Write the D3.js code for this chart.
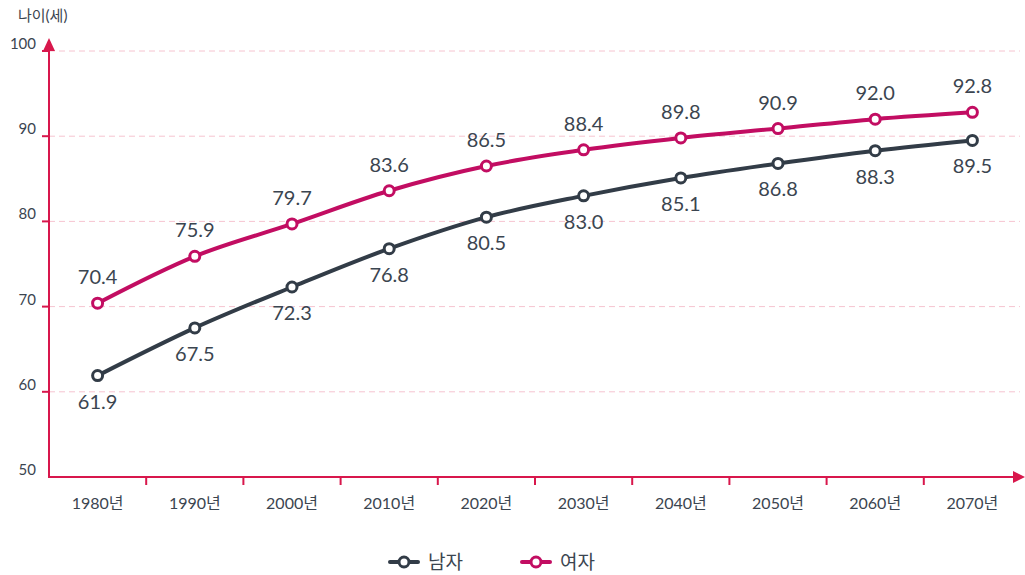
<!DOCTYPE html>
<html>
<head>
<meta charset="utf-8">
<script src="https://d3js.org/d3.v7.min.js"></script>
<style>
  body { margin: 0; background: #fff; }
  text { font-family: Lato, "Noto Sans CJK KR", sans-serif; }
</style>
</head>
<body>
<svg id="chart" width="1025" height="575"></svg>
<script>
const years = ["1980년","1990년","2000년","2010년","2020년","2030년","2040년","2050년","2060년","2070년"];
const male = [61.9, 67.5, 72.3, 76.8, 80.5, 83.0, 85.1, 86.8, 88.3, 89.5];
const female = [70.4, 75.9, 79.7, 83.6, 86.5, 88.4, 89.8, 90.9, 92.0, 92.8];
const yTicks = [50, 60, 70, 80, 90, 100];

const svg = d3.select("svg#chart");
const axisColor = "#d8174c";
const textColor = "#3b4550";
const series = [
  { name: "남자", values: male, color: "#323c47", below: true },
  { name: "여자", values: female, color: "#c20d62", below: false }
];

const x = d3.scaleBand().domain(years).range([49, 1021]);
const y = d3.scaleLinear().domain([50, 100]).range([477, 51]);

// grid
svg.append("g").selectAll("line").data(yTicks.slice(1)).join("line")
  .attr("x1", 49).attr("x2", 1020)
  .attr("y1", d => y(d)).attr("y2", d => y(d))
  .attr("stroke", "#f6c4d0").attr("stroke-width", 1)
  .attr("stroke-dasharray", "6,4");

// y tick labels + ticks
svg.append("g").selectAll("text").data(yTicks).join("text")
  .attr("x", 36).attr("y", d => y(d) - 2)
  .attr("text-anchor", "end")
  .attr("font-size", 15).attr("fill", textColor)
  .text(d => d);
svg.append("g").selectAll("line").data(yTicks.slice(1)).join("line")
  .attr("x1", 42).attr("x2", 49)
  .attr("y1", d => y(d)).attr("y2", d => y(d))
  .attr("stroke", axisColor).attr("stroke-width", 2);

// axes
svg.append("line").attr("x1", 49).attr("x2", 49).attr("y1", 478).attr("y2", 50)
  .attr("stroke", axisColor).attr("stroke-width", 2);
svg.append("path").attr("d", "M49,38 L43,51 L55,51 Z").attr("fill", axisColor);
svg.append("line").attr("x1", 48).attr("x2", 1015).attr("y1", 477).attr("y2", 477)
  .attr("stroke", axisColor).attr("stroke-width", 2);
svg.append("path").attr("d", "M1025,477 L1013,471 L1013,483 Z").attr("fill", axisColor);

// x band boundary ticks
svg.append("g").selectAll("line").data(years.slice(1)).join("line")
  .attr("x1", d => x(d)).attr("x2", d => x(d))
  .attr("y1", 477).attr("y2", 485)
  .attr("stroke", axisColor).attr("stroke-width", 2);

// x labels
svg.append("g").selectAll("text").data(years).join("text")
  .attr("x", d => x(d) + x.bandwidth() / 2).attr("y", 509)
  .attr("text-anchor", "middle")
  .attr("font-size", 16).attr("fill", textColor)
  .text(d => d);

// y title
svg.append("text").attr("x", 18).attr("y", 21)
  .attr("font-size", 15).attr("fill", textColor).text("나이(세)");

// lines
const line = d3.line()
  .x((d, i) => x(years[i]) + x.bandwidth() / 2)
  .y(d => y(d))
  .curve(d3.curveMonotoneX);

series.forEach(s => {
  const g = svg.append("g");
  g.append("path").datum(s.values)
    .attr("d", line).attr("fill", "none")
    .attr("stroke", s.color).attr("stroke-width", 4);
  g.selectAll("circle").data(s.values).join("circle")
    .attr("cx", (d, i) => x(years[i]) + x.bandwidth() / 2)
    .attr("cy", d => y(d))
    .attr("r", 5).attr("fill", "#fff")
    .attr("stroke", s.color).attr("stroke-width", 3);
  g.selectAll("text").data(s.values).join("text")
    .attr("x", (d, i) => x(years[i]) + x.bandwidth() / 2)
    .attr("y", d => s.below ? y(d) + 33 : y(d) - 19)
    .attr("text-anchor", "middle")
    .attr("font-size", 20).attr("fill", textColor)
    .text(d => d.toFixed(1));
});

// legend
const legend = svg.append("g");
const legendPos = [390, 522];
series.forEach((s, i) => {
  const lx = legendPos[i];
  legend.append("line").attr("x1", lx).attr("x2", lx + 28).attr("y1", 562).attr("y2", 562)
    .attr("stroke", s.color).attr("stroke-width", 4).attr("stroke-linecap", "round");
  legend.append("circle").attr("cx", lx + 14).attr("cy", 562).attr("r", 5)
    .attr("fill", "#fff").attr("stroke", s.color).attr("stroke-width", 3);
  legend.append("text").attr("x", lx + 38).attr("y", 569)
    .attr("font-size", 19).attr("fill", textColor).text(s.name);
});
</script>
</body>
</html>
